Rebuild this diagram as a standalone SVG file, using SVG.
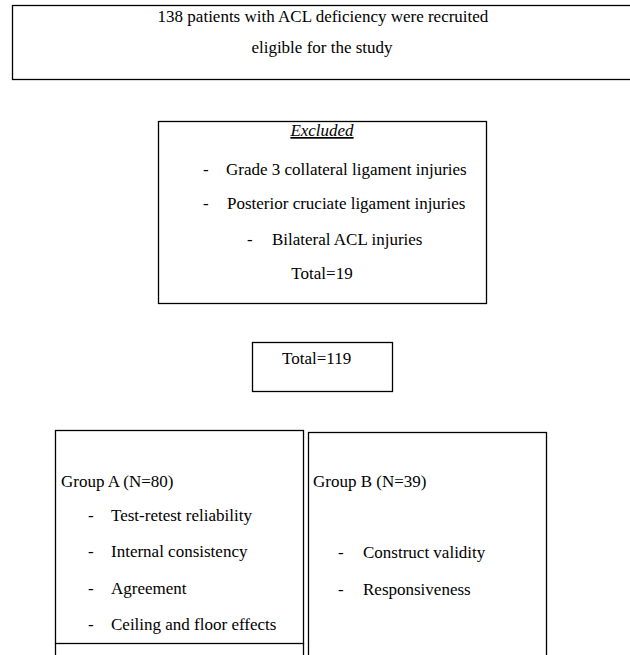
<svg xmlns="http://www.w3.org/2000/svg" width="630" height="655" viewBox="0 0 630 655">
<style>
rect{fill:#fff;stroke:#000;stroke-width:1.3}
line{stroke:#000;stroke-width:1.3}
text{font-family:"Liberation Serif","Times New Roman",serif;font-size:17px;fill:#000}
.c{text-anchor:middle}
</style>
<rect x="0" y="0" width="630" height="655" style="stroke:none"/>
<g id="recruited">
<rect x="12.5" y="5.5" width="630" height="74"/>
<text class="c" x="323" y="22">138 patients with ACL deficiency were recruited</text>
<text class="c" x="322" y="53">eligible for the study</text>
</g>
<g id="excluded">
<rect x="158.5" y="121.5" width="328" height="182"/>
<text class="c" x="322" y="136" font-style="italic" text-decoration="underline">Excluded</text>
<text x="203" y="175">-</text><text x="226" y="175">Grade 3 collateral ligament injuries</text>
<text x="203" y="209">-</text><text x="227" y="209">Posterior cruciate ligament injuries</text>
<text x="247" y="245">-</text><text x="272" y="245">Bilateral ACL injuries</text>
<text class="c" x="322" y="279">Total=19</text>
</g>
<g id="total">
<rect x="252.5" y="342.5" width="140" height="49"/>
<text x="282" y="364">Total=119</text>
</g>
<g id="groupA">
<rect x="55.5" y="430.5" width="248" height="213"/>
<line x1="55.5" y1="643" x2="55.5" y2="655"/>
<line x1="303.5" y1="643" x2="303.5" y2="655"/>
<text x="61" y="487">Group A (N=80)</text>
<text x="88" y="521">-</text><text x="111" y="521">Test-retest reliability</text>
<text x="88" y="557">-</text><text x="111" y="557">Internal consistency</text>
<text x="88" y="594">-</text><text x="111" y="594">Agreement</text>
<text x="88" y="630">-</text><text x="111" y="630">Ceiling and floor effects</text>
</g>
<g id="groupB">
<rect x="308.5" y="432.5" width="238" height="240"/>
<text x="313" y="487">Group B (N=39)</text>
<text x="338" y="558">-</text><text x="363" y="558">Construct validity</text>
<text x="338" y="595">-</text><text x="363" y="595">Responsiveness</text>
</g>
<g id="connectors"></g>
</svg>
